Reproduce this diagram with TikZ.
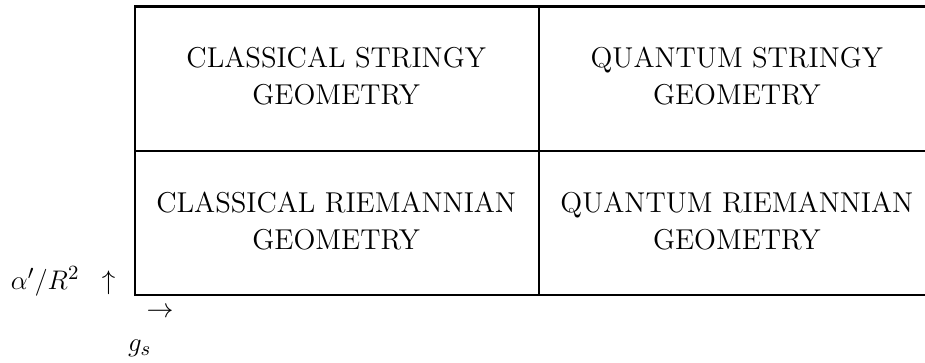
\documentclass[12pt,tikz,border=0pt]{standalone}
\usepackage{amsmath,amssymb}
\usetikzlibrary{arrows.meta}

\begin{document}
\begin{tikzpicture}[
    frame/.style={line width=1.25pt, black},
    rule/.style={line width=0.9pt, black},
    cell/.style={align=center, inner sep=0pt, font=\fontsize{12.8}{16.4}\selectfont},
    label/.style={inner sep=0pt, font=\fontsize{12.8}{16.4}\selectfont}
]
    \useasboundingbox (0,0) rectangle (14.5,5.675);
    \draw[frame] (14.5,5.573) -- (2.116,5.573) -- (2.116,1.050) -- (14.5,1.050);
    \draw[rule] (2.116,3.308) -- (14.5,3.308);
    \draw[rule] (8.45,5.573) -- (8.45,1.050);

    \node[cell] (cstringy) at (5.27,4.48) {CLASSICAL STRINGY\\GEOMETRY};
    \node[cell] (qstringy) at (11.55,4.48) {QUANTUM STRINGY\\GEOMETRY};
    \node[cell] (criemann) at (5.27,2.21) {CLASSICAL RIEMANNIAN\\GEOMETRY};
    \node[cell] (qriemann) at (11.55,2.21) {QUANTUM RIEMANNIAN\\GEOMETRY};

    \node[label] (alpha) at (0.99,1.26) {$\alpha'/R^2\;\;\uparrow$};
    \node[label] (gsarrow) at (2.51,0.78) {$\rightarrow$};
    \node[label] (gs) at (2.19,0.21) {$g_s$};
\end{tikzpicture}
\end{document}
